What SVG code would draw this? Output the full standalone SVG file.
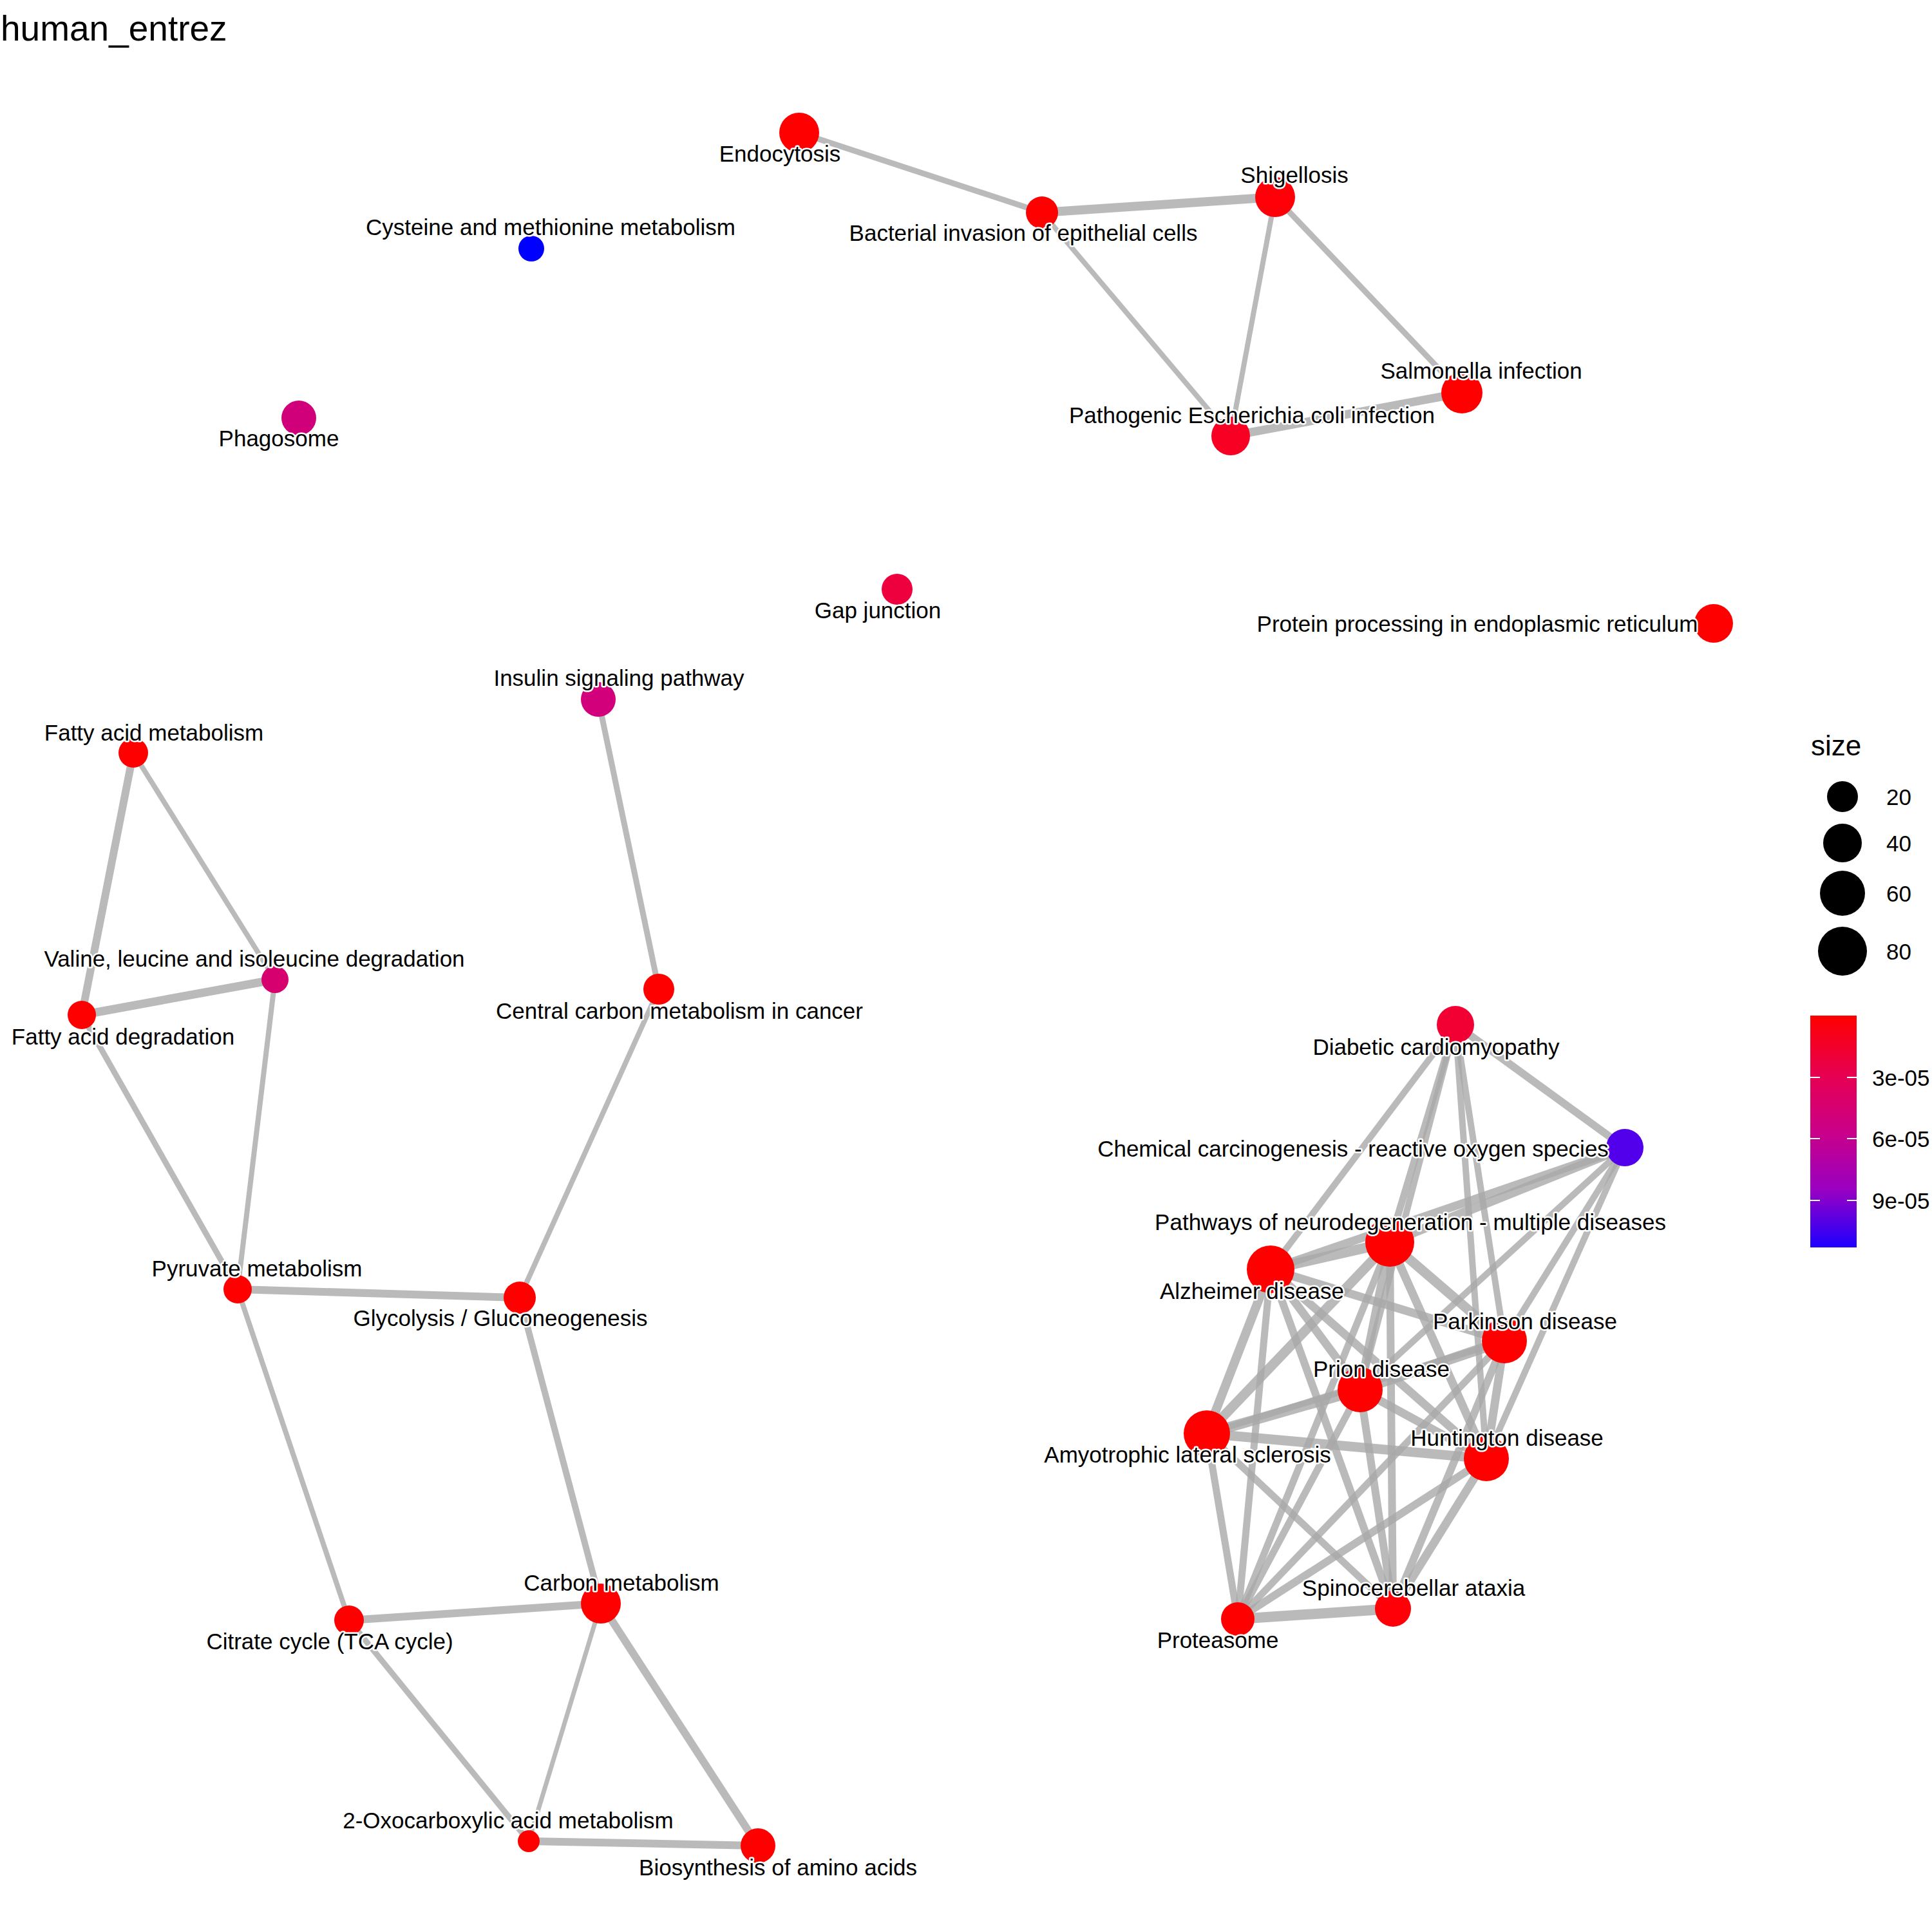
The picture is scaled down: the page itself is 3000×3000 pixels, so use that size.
<svg xmlns="http://www.w3.org/2000/svg" width="3000" height="3000" viewBox="0 0 3000 3000">
  <defs>
    <linearGradient id="padjGrad" x1="0" y1="0" x2="0" y2="1">
      <stop offset="0" stop-color="#FF0000"/>
      <stop offset="0.25" stop-color="#E80050"/>
      <stop offset="0.5" stop-color="#CA0088"/>
      <stop offset="0.75" stop-color="#9A00C2"/>
      <stop offset="1" stop-color="#1E00FF"/>
    </linearGradient>
  </defs>
  <style>
    .edge { stroke: #A9A9A9; stroke-opacity: 0.8; stroke-linecap: butt; fill: none; }
    .lbl { font-family: "Liberation Sans", Arial, sans-serif; font-size: 35px; fill: #000; text-anchor: middle; stroke: #FFFFFF; stroke-width: 5px; stroke-linejoin: round; paint-order: stroke fill; }
    .title { font-family: "Liberation Sans", Arial, sans-serif; font-size: 55px; fill: #000; }
    .legtitle { font-family: "Liberation Sans", Arial, sans-serif; font-size: 44px; fill: #000; }
    .legtxt { font-family: "Liberation Sans", Arial, sans-serif; font-size: 35px; fill: #000; }
    .tick { stroke: #FFFFFF; stroke-width: 2; }
  </style>
  <rect x="0" y="0" width="3000" height="3000" fill="#FFFFFF"/>
  <text class="title" x="1" y="63">human_entrez</text>

  <!-- similarity edges -->
  <g id="edges">
    <!-- infection cluster -->
    <line class="edge" x1="1241" y1="206" x2="1618" y2="330" stroke-width="9"/>
    <line class="edge" x1="1618" y1="330" x2="1980" y2="306" stroke-width="14"/>
    <line class="edge" x1="1618" y1="330" x2="1911" y2="677" stroke-width="8"/>
    <line class="edge" x1="1980" y1="306" x2="1911" y2="677" stroke-width="8"/>
    <line class="edge" x1="1980" y1="306" x2="2270" y2="610" stroke-width="9"/>
    <line class="edge" x1="1911" y1="677" x2="2270" y2="610" stroke-width="13"/>
    <!-- metabolism cluster -->
    <line class="edge" x1="207" y1="1169" x2="127" y2="1576" stroke-width="12"/>
    <line class="edge" x1="207" y1="1169" x2="427" y2="1521" stroke-width="8"/>
    <line class="edge" x1="127" y1="1576" x2="427" y2="1521" stroke-width="13"/>
    <line class="edge" x1="127" y1="1576" x2="369" y2="2002" stroke-width="9"/>
    <line class="edge" x1="427" y1="1521" x2="369" y2="2002" stroke-width="8"/>
    <line class="edge" x1="929" y1="1086" x2="1023" y2="1536" stroke-width="9"/>
    <line class="edge" x1="1023" y1="1536" x2="807" y2="2015" stroke-width="8"/>
    <line class="edge" x1="369" y1="2002" x2="807" y2="2015" stroke-width="12"/>
    <line class="edge" x1="369" y1="2002" x2="542" y2="2516" stroke-width="8"/>
    <line class="edge" x1="807" y1="2015" x2="933" y2="2490" stroke-width="10"/>
    <line class="edge" x1="542" y1="2516" x2="933" y2="2490" stroke-width="12"/>
    <line class="edge" x1="542" y1="2516" x2="821" y2="2859" stroke-width="9"/>
    <line class="edge" x1="933" y1="2490" x2="821" y2="2859" stroke-width="7"/>
    <line class="edge" x1="933" y1="2490" x2="1177" y2="2866" stroke-width="12"/>
    <line class="edge" x1="821" y1="2859" x2="1177" y2="2866" stroke-width="12"/>
    <!-- neurodegeneration cluster -->
    <line class="edge" x1="2260" y1="1591" x2="2523" y2="1782" stroke-width="12"/>
    <line class="edge" x1="2260" y1="1591" x2="1973" y2="1971" stroke-width="10"/>
    <line class="edge" x1="2260" y1="1591" x2="2158" y2="1929" stroke-width="11"/>
    <line class="edge" x1="2260" y1="1591" x2="2112" y2="2158" stroke-width="10"/>
    <line class="edge" x1="2260" y1="1591" x2="2336" y2="2082" stroke-width="10"/>
    <line class="edge" x1="2260" y1="1591" x2="2308" y2="2265" stroke-width="10"/>
    <line class="edge" x1="2523" y1="1782" x2="2158" y2="1929" stroke-width="14"/>
    <line class="edge" x1="2523" y1="1782" x2="1973" y2="1971" stroke-width="13"/>
    <line class="edge" x1="2523" y1="1782" x2="2112" y2="2158" stroke-width="10"/>
    <line class="edge" x1="2523" y1="1782" x2="2336" y2="2082" stroke-width="10"/>
    <line class="edge" x1="2523" y1="1782" x2="2308" y2="2265" stroke-width="10"/>
    <line class="edge" x1="2158" y1="1929" x2="1973" y2="1971" stroke-width="16"/>
    <line class="edge" x1="2158" y1="1929" x2="2336" y2="2082" stroke-width="15"/>
    <line class="edge" x1="2158" y1="1929" x2="2112" y2="2158" stroke-width="13"/>
    <line class="edge" x1="2158" y1="1929" x2="1874" y2="2226" stroke-width="15"/>
    <line class="edge" x1="2158" y1="1929" x2="2308" y2="2265" stroke-width="13"/>
    <line class="edge" x1="2158" y1="1929" x2="2163" y2="2498" stroke-width="12"/>
    <line class="edge" x1="2158" y1="1929" x2="1922" y2="2514" stroke-width="11"/>
    <line class="edge" x1="1973" y1="1971" x2="2336" y2="2082" stroke-width="13"/>
    <line class="edge" x1="1973" y1="1971" x2="2112" y2="2158" stroke-width="13"/>
    <line class="edge" x1="1973" y1="1971" x2="1874" y2="2226" stroke-width="14"/>
    <line class="edge" x1="1973" y1="1971" x2="2308" y2="2265" stroke-width="13"/>
    <line class="edge" x1="1973" y1="1971" x2="2163" y2="2498" stroke-width="12"/>
    <line class="edge" x1="1973" y1="1971" x2="1922" y2="2514" stroke-width="11"/>
    <line class="edge" x1="2336" y1="2082" x2="2112" y2="2158" stroke-width="16"/>
    <line class="edge" x1="2336" y1="2082" x2="1874" y2="2226" stroke-width="10"/>
    <line class="edge" x1="2336" y1="2082" x2="2308" y2="2265" stroke-width="13"/>
    <line class="edge" x1="2336" y1="2082" x2="2163" y2="2498" stroke-width="12"/>
    <line class="edge" x1="2336" y1="2082" x2="1922" y2="2514" stroke-width="11"/>
    <line class="edge" x1="2112" y1="2158" x2="1874" y2="2226" stroke-width="16"/>
    <line class="edge" x1="2112" y1="2158" x2="2308" y2="2265" stroke-width="13"/>
    <line class="edge" x1="2112" y1="2158" x2="2163" y2="2498" stroke-width="12"/>
    <line class="edge" x1="2112" y1="2158" x2="1922" y2="2514" stroke-width="11"/>
    <line class="edge" x1="1874" y1="2226" x2="2308" y2="2265" stroke-width="15"/>
    <line class="edge" x1="1874" y1="2226" x2="2163" y2="2498" stroke-width="11"/>
    <line class="edge" x1="1874" y1="2226" x2="1922" y2="2514" stroke-width="11"/>
    <line class="edge" x1="2308" y1="2265" x2="2163" y2="2498" stroke-width="13"/>
    <line class="edge" x1="2308" y1="2265" x2="1922" y2="2514" stroke-width="12"/>
    <line class="edge" x1="2163" y1="2498" x2="1922" y2="2514" stroke-width="16"/>
  </g>

  <!-- pathway nodes -->
  <g id="nodes">
    <g id="node-endocytosis"><circle cx="1241" cy="206" r="31" fill="#FF0000"/><text class="lbl" x="1211" y="251">Endocytosis</text></g>
    <g id="node-bacterial-invasion"><circle cx="1618" cy="330" r="25" fill="#FF0000"/><text class="lbl" x="1589" y="374">Bacterial invasion of epithelial cells</text></g>
    <g id="node-shigellosis"><circle cx="1980" cy="306" r="31" fill="#FF0008"/><text class="lbl" x="2010" y="284">Shigellosis</text></g>
    <g id="node-salmonella"><circle cx="2270" cy="610" r="32" fill="#FF0000"/><text class="lbl" x="2300" y="588">Salmonella infection</text></g>
    <g id="node-ecoli"><circle cx="1911" cy="677" r="30" fill="#F80024"/><text class="lbl" x="1944" y="657">Pathogenic Escherichia coli infection</text></g>
    <g id="node-cysteine"><circle cx="825" cy="386" r="20" fill="#0000FF"/><text class="lbl" x="855" y="365">Cysteine and methionine metabolism</text></g>
    <g id="node-phagosome"><circle cx="464" cy="649" r="27" fill="#D0007A"/><text class="lbl" x="433" y="693">Phagosome</text></g>
    <g id="node-gap-junction"><circle cx="1393" cy="915" r="24" fill="#EE003E"/><text class="lbl" x="1363" y="960">Gap junction</text></g>
    <g id="node-protein-processing"><circle cx="2661" cy="968" r="30" fill="#FF0000"/><text class="lbl" x="2294" y="981">Protein processing in endoplasmic reticulum</text></g>
    <g id="node-insulin"><circle cx="929" cy="1086" r="27" fill="#D2007A"/><text class="lbl" x="961" y="1065">Insulin signaling pathway</text></g>
    <g id="node-fatty-acid-metabolism"><circle cx="207" cy="1169" r="23" fill="#FF0000"/><text class="lbl" x="239" y="1150">Fatty acid metabolism</text></g>
    <g id="node-valine"><circle cx="427" cy="1521" r="21" fill="#D6006E"/><text class="lbl" x="395" y="1501">Valine, leucine and isoleucine degradation</text></g>
    <g id="node-fatty-acid-degradation"><circle cx="127" cy="1576" r="22" fill="#FF0000"/><text class="lbl" x="191" y="1622">Fatty acid degradation</text></g>
    <g id="node-central-carbon"><circle cx="1023" cy="1536" r="24" fill="#FF0000"/><text class="lbl" x="1055" y="1582">Central carbon metabolism in cancer</text></g>
    <g id="node-pyruvate"><circle cx="369" cy="2002" r="22" fill="#FF0000"/><text class="lbl" x="399" y="1982">Pyruvate metabolism</text></g>
    <g id="node-glycolysis"><circle cx="807" cy="2015" r="25" fill="#FF0000"/><text class="lbl" x="777" y="2059">Glycolysis / Gluconeogenesis</text></g>
    <g id="node-carbon-metabolism"><circle cx="933" cy="2490" r="31" fill="#FF0000"/><text class="lbl" x="965" y="2470">Carbon metabolism</text></g>
    <g id="node-citrate"><circle cx="542" cy="2516" r="23" fill="#FF0000"/><text class="lbl" x="512" y="2561">Citrate cycle (TCA cycle)</text></g>
    <g id="node-oxocarboxylic"><circle cx="821" cy="2859" r="17" fill="#FF0000"/><text class="lbl" x="789" y="2839">2-Oxocarboxylic acid metabolism</text></g>
    <g id="node-biosynthesis"><circle cx="1177" cy="2866" r="27" fill="#FF0000"/><text class="lbl" x="1208" y="2912">Biosynthesis of amino acids</text></g>
    <g id="node-diabetic"><circle cx="2260" cy="1591" r="29" fill="#F20034"/><text class="lbl" x="2230" y="1638">Diabetic cardiomyopathy</text></g>
    <g id="node-chemical-carcinogenesis"><circle cx="2523" cy="1782" r="29" fill="#5200EC"/><text class="lbl" x="2101" y="1796">Chemical carcinogenesis - reactive oxygen species</text></g>
    <g id="node-neurodegeneration"><circle cx="2158" cy="1929" r="38" fill="#FF0000"/><text class="lbl" x="2190" y="1910">Pathways of neurodegeneration - multiple diseases</text></g>
    <g id="node-alzheimer"><circle cx="1973" cy="1971" r="37" fill="#FF0000"/><text class="lbl" x="1944" y="2017">Alzheimer disease</text></g>
    <g id="node-parkinson"><circle cx="2336" cy="2082" r="35" fill="#FF0000"/><text class="lbl" x="2368" y="2064">Parkinson disease</text></g>
    <g id="node-prion"><circle cx="2112" cy="2158" r="35" fill="#FF0000"/><text class="lbl" x="2145" y="2138">Prion disease</text></g>
    <g id="node-als"><circle cx="1874" cy="2226" r="36" fill="#FF0000"/><text class="lbl" x="1844" y="2271">Amyotrophic lateral sclerosis</text></g>
    <g id="node-huntington"><circle cx="2308" cy="2265" r="35" fill="#FF0000"/><text class="lbl" x="2340" y="2245">Huntington disease</text></g>
    <g id="node-spinocerebellar"><circle cx="2163" cy="2498" r="28" fill="#FF0008"/><text class="lbl" x="2195" y="2478">Spinocerebellar ataxia</text></g>
    <g id="node-proteasome"><circle cx="1922" cy="2514" r="26" fill="#FF0000"/><text class="lbl" x="1891" y="2559">Proteasome</text></g>
  </g>

  <!-- legends -->
  <g id="legend-size">
    <text class="legtitle" x="2812" y="1173">size</text>
    <circle cx="2861" cy="1237" r="24" fill="#000000"/>
    <circle cx="2861" cy="1309" r="30" fill="#000000"/>
    <circle cx="2861" cy="1387" r="35" fill="#000000"/>
    <circle cx="2861" cy="1477" r="38" fill="#000000"/>
    <text class="legtxt" x="2929" y="1250">20</text>
    <text class="legtxt" x="2929" y="1322">40</text>
    <text class="legtxt" x="2929" y="1400">60</text>
    <text class="legtxt" x="2929" y="1490">80</text>
  </g>
  <g id="legend-padjust">
    <rect x="2811" y="1577" width="72" height="360" fill="url(#padjGrad)"/>
    <line class="tick" x1="2811" y1="1673" x2="2826" y2="1673"/>
    <line class="tick" x1="2868" y1="1673" x2="2883" y2="1673"/>
    <line class="tick" x1="2811" y1="1768" x2="2826" y2="1768"/>
    <line class="tick" x1="2868" y1="1768" x2="2883" y2="1768"/>
    <line class="tick" x1="2811" y1="1864" x2="2826" y2="1864"/>
    <line class="tick" x1="2868" y1="1864" x2="2883" y2="1864"/>
    <text class="legtxt" x="2907" y="1686">3e-05</text>
    <text class="legtxt" x="2907" y="1781">6e-05</text>
    <text class="legtxt" x="2907" y="1877">9e-05</text>
  </g>
</svg>
